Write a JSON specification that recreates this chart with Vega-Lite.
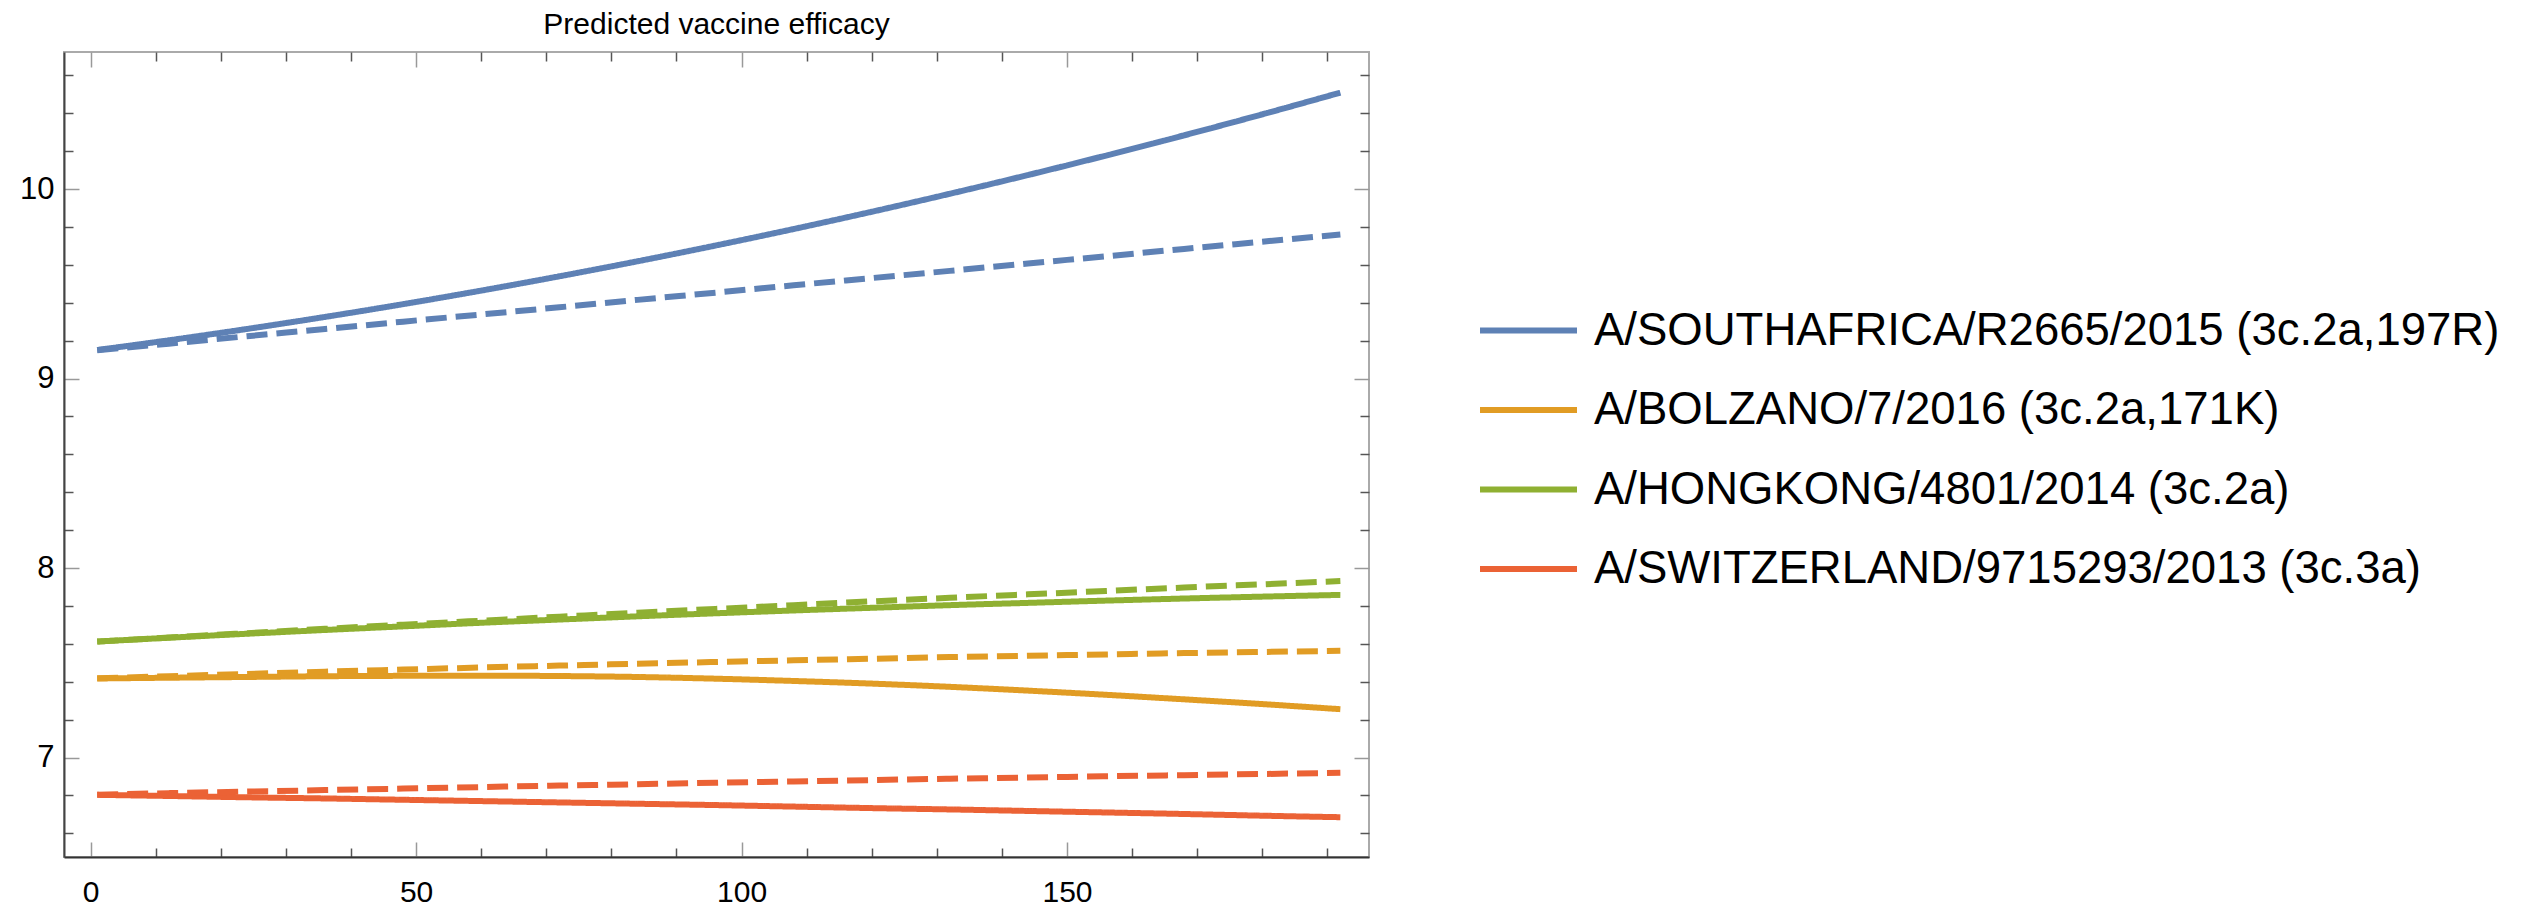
{
  "$schema": "https://vega.github.io/schema/vega-lite/v6.json",
  "width": 1305,
  "height": 805,
  "autosize": {"type": "none"},
  "padding": {"left": 64, "top": 52, "right": 1162, "bottom": 49},
  "background": "white",
  "title": {"text": "Predicted vaccine efficacy", "fontSize": 30, "font": "Liberation Sans", "fontWeight": "normal", "color": "#000", "anchor": "middle", "frame": "group", "baseline": "alphabetic", "offset": -13},
  "config": {
    "view": {"stroke": "#aaa", "strokeWidth": 2},
    "font": "Liberation Sans"
  },
  "datasets": {
    "d": [
      {"s":"A/SOUTHAFRICA/R2665/2015 (3c.2a,197R)","k":"solid","t":1,"v":9.1505},
      {"s":"A/SOUTHAFRICA/R2665/2015 (3c.2a,197R)","k":"solid","t":12,"v":9.2017},
      {"s":"A/SOUTHAFRICA/R2665/2015 (3c.2a,197R)","k":"solid","t":24,"v":9.2614},
      {"s":"A/SOUTHAFRICA/R2665/2015 (3c.2a,197R)","k":"solid","t":36,"v":9.3250},
      {"s":"A/SOUTHAFRICA/R2665/2015 (3c.2a,197R)","k":"solid","t":48,"v":9.3924},
      {"s":"A/SOUTHAFRICA/R2665/2015 (3c.2a,197R)","k":"solid","t":60,"v":9.4639},
      {"s":"A/SOUTHAFRICA/R2665/2015 (3c.2a,197R)","k":"solid","t":72,"v":9.5393},
      {"s":"A/SOUTHAFRICA/R2665/2015 (3c.2a,197R)","k":"solid","t":84,"v":9.6185},
      {"s":"A/SOUTHAFRICA/R2665/2015 (3c.2a,197R)","k":"solid","t":96,"v":9.7017},
      {"s":"A/SOUTHAFRICA/R2665/2015 (3c.2a,197R)","k":"solid","t":108,"v":9.7888},
      {"s":"A/SOUTHAFRICA/R2665/2015 (3c.2a,197R)","k":"solid","t":120,"v":9.8799},
      {"s":"A/SOUTHAFRICA/R2665/2015 (3c.2a,197R)","k":"solid","t":132,"v":9.9749},
      {"s":"A/SOUTHAFRICA/R2665/2015 (3c.2a,197R)","k":"solid","t":144,"v":10.0737},
      {"s":"A/SOUTHAFRICA/R2665/2015 (3c.2a,197R)","k":"solid","t":156,"v":10.1766},
      {"s":"A/SOUTHAFRICA/R2665/2015 (3c.2a,197R)","k":"solid","t":168,"v":10.2833},
      {"s":"A/SOUTHAFRICA/R2665/2015 (3c.2a,197R)","k":"solid","t":180,"v":10.3940},
      {"s":"A/SOUTHAFRICA/R2665/2015 (3c.2a,197R)","k":"solid","t":192,"v":10.5087},
      {"s":"A/SOUTHAFRICA/R2665/2015 (3c.2a,197R)","k":"dashed","t":1,"v":9.149},
      {"s":"A/SOUTHAFRICA/R2665/2015 (3c.2a,197R)","k":"dashed","t":12,"v":9.184},
      {"s":"A/SOUTHAFRICA/R2665/2015 (3c.2a,197R)","k":"dashed","t":24,"v":9.223},
      {"s":"A/SOUTHAFRICA/R2665/2015 (3c.2a,197R)","k":"dashed","t":36,"v":9.261},
      {"s":"A/SOUTHAFRICA/R2665/2015 (3c.2a,197R)","k":"dashed","t":48,"v":9.300},
      {"s":"A/SOUTHAFRICA/R2665/2015 (3c.2a,197R)","k":"dashed","t":60,"v":9.338},
      {"s":"A/SOUTHAFRICA/R2665/2015 (3c.2a,197R)","k":"dashed","t":72,"v":9.376},
      {"s":"A/SOUTHAFRICA/R2665/2015 (3c.2a,197R)","k":"dashed","t":84,"v":9.415},
      {"s":"A/SOUTHAFRICA/R2665/2015 (3c.2a,197R)","k":"dashed","t":96,"v":9.453},
      {"s":"A/SOUTHAFRICA/R2665/2015 (3c.2a,197R)","k":"dashed","t":108,"v":9.492},
      {"s":"A/SOUTHAFRICA/R2665/2015 (3c.2a,197R)","k":"dashed","t":120,"v":9.530},
      {"s":"A/SOUTHAFRICA/R2665/2015 (3c.2a,197R)","k":"dashed","t":132,"v":9.568},
      {"s":"A/SOUTHAFRICA/R2665/2015 (3c.2a,197R)","k":"dashed","t":144,"v":9.607},
      {"s":"A/SOUTHAFRICA/R2665/2015 (3c.2a,197R)","k":"dashed","t":156,"v":9.645},
      {"s":"A/SOUTHAFRICA/R2665/2015 (3c.2a,197R)","k":"dashed","t":168,"v":9.684},
      {"s":"A/SOUTHAFRICA/R2665/2015 (3c.2a,197R)","k":"dashed","t":180,"v":9.722},
      {"s":"A/SOUTHAFRICA/R2665/2015 (3c.2a,197R)","k":"dashed","t":192,"v":9.760},
      {"s":"A/BOLZANO/7/2016 (3c.2a,171K)","k":"solid","t":1,"v":7.417},
      {"s":"A/BOLZANO/7/2016 (3c.2a,171K)","k":"solid","t":12,"v":7.421},
      {"s":"A/BOLZANO/7/2016 (3c.2a,171K)","k":"solid","t":24,"v":7.425},
      {"s":"A/BOLZANO/7/2016 (3c.2a,171K)","k":"solid","t":36,"v":7.429},
      {"s":"A/BOLZANO/7/2016 (3c.2a,171K)","k":"solid","t":48,"v":7.431},
      {"s":"A/BOLZANO/7/2016 (3c.2a,171K)","k":"solid","t":60,"v":7.432},
      {"s":"A/BOLZANO/7/2016 (3c.2a,171K)","k":"solid","t":72,"v":7.430},
      {"s":"A/BOLZANO/7/2016 (3c.2a,171K)","k":"solid","t":84,"v":7.425},
      {"s":"A/BOLZANO/7/2016 (3c.2a,171K)","k":"solid","t":96,"v":7.416},
      {"s":"A/BOLZANO/7/2016 (3c.2a,171K)","k":"solid","t":108,"v":7.404},
      {"s":"A/BOLZANO/7/2016 (3c.2a,171K)","k":"solid","t":120,"v":7.390},
      {"s":"A/BOLZANO/7/2016 (3c.2a,171K)","k":"solid","t":132,"v":7.373},
      {"s":"A/BOLZANO/7/2016 (3c.2a,171K)","k":"solid","t":144,"v":7.353},
      {"s":"A/BOLZANO/7/2016 (3c.2a,171K)","k":"solid","t":156,"v":7.331},
      {"s":"A/BOLZANO/7/2016 (3c.2a,171K)","k":"solid","t":168,"v":7.307},
      {"s":"A/BOLZANO/7/2016 (3c.2a,171K)","k":"solid","t":180,"v":7.282},
      {"s":"A/BOLZANO/7/2016 (3c.2a,171K)","k":"solid","t":192,"v":7.255},
      {"s":"A/BOLZANO/7/2016 (3c.2a,171K)","k":"dashed","t":1,"v":7.418},
      {"s":"A/BOLZANO/7/2016 (3c.2a,171K)","k":"dashed","t":12,"v":7.429},
      {"s":"A/BOLZANO/7/2016 (3c.2a,171K)","k":"dashed","t":24,"v":7.441},
      {"s":"A/BOLZANO/7/2016 (3c.2a,171K)","k":"dashed","t":36,"v":7.453},
      {"s":"A/BOLZANO/7/2016 (3c.2a,171K)","k":"dashed","t":48,"v":7.464},
      {"s":"A/BOLZANO/7/2016 (3c.2a,171K)","k":"dashed","t":60,"v":7.475},
      {"s":"A/BOLZANO/7/2016 (3c.2a,171K)","k":"dashed","t":72,"v":7.485},
      {"s":"A/BOLZANO/7/2016 (3c.2a,171K)","k":"dashed","t":84,"v":7.495},
      {"s":"A/BOLZANO/7/2016 (3c.2a,171K)","k":"dashed","t":96,"v":7.504},
      {"s":"A/BOLZANO/7/2016 (3c.2a,171K)","k":"dashed","t":108,"v":7.513},
      {"s":"A/BOLZANO/7/2016 (3c.2a,171K)","k":"dashed","t":120,"v":7.521},
      {"s":"A/BOLZANO/7/2016 (3c.2a,171K)","k":"dashed","t":132,"v":7.530},
      {"s":"A/BOLZANO/7/2016 (3c.2a,171K)","k":"dashed","t":144,"v":7.537},
      {"s":"A/BOLZANO/7/2016 (3c.2a,171K)","k":"dashed","t":156,"v":7.544},
      {"s":"A/BOLZANO/7/2016 (3c.2a,171K)","k":"dashed","t":168,"v":7.551},
      {"s":"A/BOLZANO/7/2016 (3c.2a,171K)","k":"dashed","t":180,"v":7.557},
      {"s":"A/BOLZANO/7/2016 (3c.2a,171K)","k":"dashed","t":192,"v":7.563},
      {"s":"A/HONGKONG/4801/2014 (3c.2a)","k":"solid","t":1,"v":7.612},
      {"s":"A/HONGKONG/4801/2014 (3c.2a)","k":"solid","t":12,"v":7.632},
      {"s":"A/HONGKONG/4801/2014 (3c.2a)","k":"solid","t":24,"v":7.653},
      {"s":"A/HONGKONG/4801/2014 (3c.2a)","k":"solid","t":36,"v":7.673},
      {"s":"A/HONGKONG/4801/2014 (3c.2a)","k":"solid","t":48,"v":7.692},
      {"s":"A/HONGKONG/4801/2014 (3c.2a)","k":"solid","t":60,"v":7.711},
      {"s":"A/HONGKONG/4801/2014 (3c.2a)","k":"solid","t":72,"v":7.728},
      {"s":"A/HONGKONG/4801/2014 (3c.2a)","k":"solid","t":84,"v":7.745},
      {"s":"A/HONGKONG/4801/2014 (3c.2a)","k":"solid","t":96,"v":7.761},
      {"s":"A/HONGKONG/4801/2014 (3c.2a)","k":"solid","t":108,"v":7.776},
      {"s":"A/HONGKONG/4801/2014 (3c.2a)","k":"solid","t":120,"v":7.790},
      {"s":"A/HONGKONG/4801/2014 (3c.2a)","k":"solid","t":132,"v":7.804},
      {"s":"A/HONGKONG/4801/2014 (3c.2a)","k":"solid","t":144,"v":7.816},
      {"s":"A/HONGKONG/4801/2014 (3c.2a)","k":"solid","t":156,"v":7.828},
      {"s":"A/HONGKONG/4801/2014 (3c.2a)","k":"solid","t":168,"v":7.839},
      {"s":"A/HONGKONG/4801/2014 (3c.2a)","k":"solid","t":180,"v":7.849},
      {"s":"A/HONGKONG/4801/2014 (3c.2a)","k":"solid","t":192,"v":7.858},
      {"s":"A/HONGKONG/4801/2014 (3c.2a)","k":"dashed","t":1,"v":7.612},
      {"s":"A/HONGKONG/4801/2014 (3c.2a)","k":"dashed","t":12,"v":7.633},
      {"s":"A/HONGKONG/4801/2014 (3c.2a)","k":"dashed","t":24,"v":7.656},
      {"s":"A/HONGKONG/4801/2014 (3c.2a)","k":"dashed","t":36,"v":7.679},
      {"s":"A/HONGKONG/4801/2014 (3c.2a)","k":"dashed","t":48,"v":7.701},
      {"s":"A/HONGKONG/4801/2014 (3c.2a)","k":"dashed","t":60,"v":7.722},
      {"s":"A/HONGKONG/4801/2014 (3c.2a)","k":"dashed","t":72,"v":7.743},
      {"s":"A/HONGKONG/4801/2014 (3c.2a)","k":"dashed","t":84,"v":7.764},
      {"s":"A/HONGKONG/4801/2014 (3c.2a)","k":"dashed","t":96,"v":7.784},
      {"s":"A/HONGKONG/4801/2014 (3c.2a)","k":"dashed","t":108,"v":7.804},
      {"s":"A/HONGKONG/4801/2014 (3c.2a)","k":"dashed","t":120,"v":7.824},
      {"s":"A/HONGKONG/4801/2014 (3c.2a)","k":"dashed","t":132,"v":7.843},
      {"s":"A/HONGKONG/4801/2014 (3c.2a)","k":"dashed","t":144,"v":7.861},
      {"s":"A/HONGKONG/4801/2014 (3c.2a)","k":"dashed","t":156,"v":7.879},
      {"s":"A/HONGKONG/4801/2014 (3c.2a)","k":"dashed","t":168,"v":7.897},
      {"s":"A/HONGKONG/4801/2014 (3c.2a)","k":"dashed","t":180,"v":7.914},
      {"s":"A/HONGKONG/4801/2014 (3c.2a)","k":"dashed","t":192,"v":7.931},
      {"s":"A/SWITZERLAND/9715293/2013 (3c.3a)","k":"solid","t":1,"v":6.803},
      {"s":"A/SWITZERLAND/9715293/2013 (3c.3a)","k":"solid","t":12,"v":6.797},
      {"s":"A/SWITZERLAND/9715293/2013 (3c.3a)","k":"solid","t":24,"v":6.790},
      {"s":"A/SWITZERLAND/9715293/2013 (3c.3a)","k":"solid","t":36,"v":6.784},
      {"s":"A/SWITZERLAND/9715293/2013 (3c.3a)","k":"solid","t":48,"v":6.777},
      {"s":"A/SWITZERLAND/9715293/2013 (3c.3a)","k":"solid","t":60,"v":6.770},
      {"s":"A/SWITZERLAND/9715293/2013 (3c.3a)","k":"solid","t":72,"v":6.763},
      {"s":"A/SWITZERLAND/9715293/2013 (3c.3a)","k":"solid","t":84,"v":6.756},
      {"s":"A/SWITZERLAND/9715293/2013 (3c.3a)","k":"solid","t":96,"v":6.749},
      {"s":"A/SWITZERLAND/9715293/2013 (3c.3a)","k":"solid","t":108,"v":6.741},
      {"s":"A/SWITZERLAND/9715293/2013 (3c.3a)","k":"solid","t":120,"v":6.733},
      {"s":"A/SWITZERLAND/9715293/2013 (3c.3a)","k":"solid","t":132,"v":6.726},
      {"s":"A/SWITZERLAND/9715293/2013 (3c.3a)","k":"solid","t":144,"v":6.718},
      {"s":"A/SWITZERLAND/9715293/2013 (3c.3a)","k":"solid","t":156,"v":6.710},
      {"s":"A/SWITZERLAND/9715293/2013 (3c.3a)","k":"solid","t":168,"v":6.702},
      {"s":"A/SWITZERLAND/9715293/2013 (3c.3a)","k":"solid","t":180,"v":6.693},
      {"s":"A/SWITZERLAND/9715293/2013 (3c.3a)","k":"solid","t":192,"v":6.685},
      {"s":"A/SWITZERLAND/9715293/2013 (3c.3a)","k":"dashed","t":1,"v":6.804},
      {"s":"A/SWITZERLAND/9715293/2013 (3c.3a)","k":"dashed","t":12,"v":6.812},
      {"s":"A/SWITZERLAND/9715293/2013 (3c.3a)","k":"dashed","t":24,"v":6.820},
      {"s":"A/SWITZERLAND/9715293/2013 (3c.3a)","k":"dashed","t":36,"v":6.828},
      {"s":"A/SWITZERLAND/9715293/2013 (3c.3a)","k":"dashed","t":48,"v":6.836},
      {"s":"A/SWITZERLAND/9715293/2013 (3c.3a)","k":"dashed","t":60,"v":6.844},
      {"s":"A/SWITZERLAND/9715293/2013 (3c.3a)","k":"dashed","t":72,"v":6.852},
      {"s":"A/SWITZERLAND/9715293/2013 (3c.3a)","k":"dashed","t":84,"v":6.859},
      {"s":"A/SWITZERLAND/9715293/2013 (3c.3a)","k":"dashed","t":96,"v":6.867},
      {"s":"A/SWITZERLAND/9715293/2013 (3c.3a)","k":"dashed","t":108,"v":6.874},
      {"s":"A/SWITZERLAND/9715293/2013 (3c.3a)","k":"dashed","t":120,"v":6.881},
      {"s":"A/SWITZERLAND/9715293/2013 (3c.3a)","k":"dashed","t":132,"v":6.888},
      {"s":"A/SWITZERLAND/9715293/2013 (3c.3a)","k":"dashed","t":144,"v":6.894},
      {"s":"A/SWITZERLAND/9715293/2013 (3c.3a)","k":"dashed","t":156,"v":6.901},
      {"s":"A/SWITZERLAND/9715293/2013 (3c.3a)","k":"dashed","t":168,"v":6.907},
      {"s":"A/SWITZERLAND/9715293/2013 (3c.3a)","k":"dashed","t":180,"v":6.913},
      {"s":"A/SWITZERLAND/9715293/2013 (3c.3a)","k":"dashed","t":192,"v":6.919}
    ]
  },
  "data": {"name": "d"},
  "resolve": {"axis": {"x": "independent", "y": "independent"}},
  "layer": [
    {
      "mark": {"type": "point", "opacity": 0},
      "encoding": {
        "x": {"field": "t", "type": "quantitative", "scale": {"domain": [-4.1, 196.4], "nice": false, "zero": false},
          "axis": {"orient": "bottom", "values": [10,20,30,40,60,70,80,90,110,120,130,140,160,170,180,190], "tickSize": -9, "tickColor": "#555", "tickWidth": 1.5, "labels": false, "domain": false, "grid": false, "title": null}},
        "y": {"field": "v", "type": "quantitative", "scale": {"domain": [6.475, 10.723], "nice": false, "zero": false},
          "axis": {"orient": "left", "values": [6.6,6.8,7.2,7.4,7.6,7.8,8.2,8.4,8.6,8.8,9.2,9.4,9.6,9.8,10.2,10.4,10.6], "tickSize": -9, "tickColor": "#555", "tickWidth": 1.5, "labels": false, "domain": false, "grid": false, "title": null}}
      }
    },
    {
      "mark": {"type": "point", "opacity": 0},
      "encoding": {
        "x": {"field": "t", "type": "quantitative", "scale": {"domain": [-4.1, 196.4], "nice": false, "zero": false},
          "axis": {"orient": "top", "values": [10,20,30,40,60,70,80,90,110,120,130,140,160,170,180,190], "tickSize": -9, "tickColor": "#555", "tickWidth": 1.5, "labels": false, "domain": false, "grid": false, "title": null}},
        "y": {"field": "v", "type": "quantitative", "scale": {"domain": [6.475, 10.723], "nice": false, "zero": false},
          "axis": {"orient": "right", "values": [6.6,6.8,7.2,7.4,7.6,7.8,8.2,8.4,8.6,8.8,9.2,9.4,9.6,9.8,10.2,10.4,10.6], "tickSize": -9, "tickColor": "#555", "tickWidth": 1.5, "labels": false, "domain": false, "grid": false, "title": null}}
      }
    },
    {
      "mark": {"type": "point", "opacity": 0},
      "encoding": {
        "x": {"field": "t", "type": "quantitative", "scale": {"domain": [-4.1, 196.4], "nice": false, "zero": false},
          "axis": {"orient": "top", "values": [0,50,100,150], "tickSize": -15, "tickColor": "#999", "tickWidth": 1.5, "labels": false, "domain": false, "grid": false, "title": null}},
        "y": {"field": "v", "type": "quantitative", "scale": {"domain": [6.475, 10.723], "nice": false, "zero": false},
          "axis": {"orient": "right", "values": [7,8,9,10], "tickSize": -15, "tickColor": "#999", "tickWidth": 1.5, "labels": false, "domain": false, "grid": false, "title": null}}
      }
    },
    {
      "mark": {"type": "line", "strokeWidth": 6, "interpolate": "monotone"},
      "encoding": {
        "x": {"field": "t", "type": "quantitative", "scale": {"domain": [-4.1, 196.4], "nice": false, "zero": false},
          "axis": {"orient": "bottom", "values": [0,50,100,150], "format": "d", "tickSize": -15, "tickColor": "#999", "tickWidth": 1.5, "labelPadding": 35, "labelFontSize": 30, "labelFont": "Liberation Sans", "labelColor": "#000", "labelFlush": false, "labelOverlap": false, "domain": true, "domainColor": "#333", "domainWidth": 2, "grid": false, "title": null}},
        "y": {"field": "v", "type": "quantitative", "scale": {"domain": [6.475, 10.723], "nice": false, "zero": false},
          "axis": {"orient": "left", "values": [7,8,9,10], "format": "d", "tickSize": -15, "tickColor": "#999", "tickWidth": 1.5, "labelPadding": 25, "labelFontSize": 31, "labelFont": "Liberation Sans", "labelColor": "#000", "labelFlush": false, "labelOverlap": false, "domain": true, "domainColor": "#444", "domainWidth": 2, "grid": false, "title": null}},
        "color": {"field": "s", "type": "nominal",
          "scale": {"domain": ["A/SOUTHAFRICA/R2665/2015 (3c.2a,197R)", "A/BOLZANO/7/2016 (3c.2a,171K)", "A/HONGKONG/4801/2014 (3c.2a)", "A/SWITZERLAND/9715293/2013 (3c.3a)"], "range": ["#5E81B5", "#E19C24", "#8FB032", "#EB6235"]},
          "legend": {"title": null, "orient": "none", "legendX": 1413, "legendY": 227, "symbolType": "stroke", "symbolSize": 9409, "symbolStrokeWidth": 6, "labelFontSize": 45.5, "labelFont": "Liberation Sans", "labelColor": "#000", "labelLimit": 1200, "labelOffset": 14, "rowPadding": 4.5, "padding": 0}},
        "strokeDash": {"field": "k", "type": "nominal", "scale": {"domain": ["solid", "dashed"], "range": [[1, 0], [21, 9]]}, "legend": null}
      }
    }
  ]
}
